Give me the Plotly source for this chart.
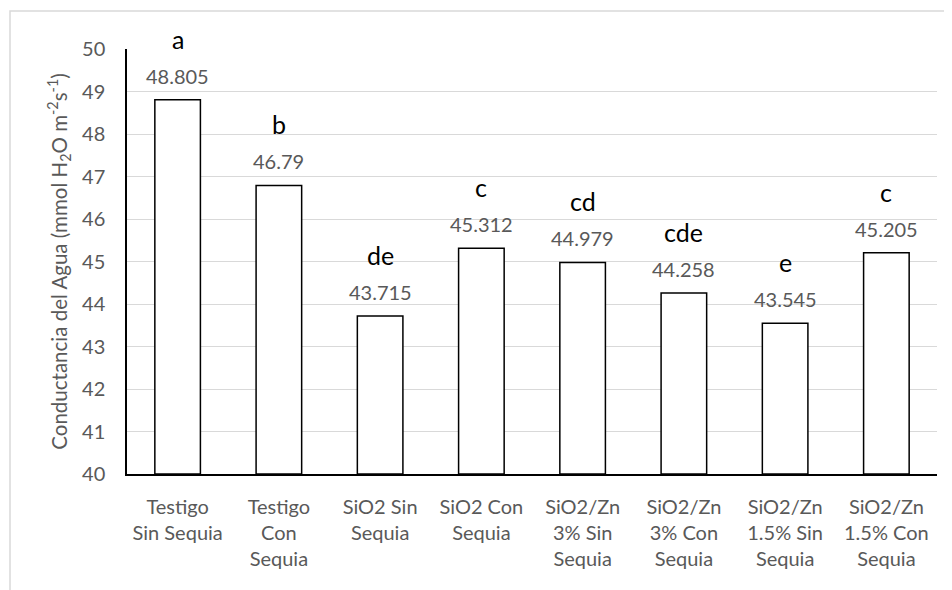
import plotly.graph_objects as go

categories = [
    "Testigo<br>Sin Sequia",
    "Testigo<br>Con<br>Sequia",
    "SiO2 Sin<br>Sequia",
    "SiO2 Con<br>Sequia",
    "SiO2/Zn<br>3% Sin<br>Sequia",
    "SiO2/Zn<br>3% Con<br>Sequia",
    "SiO2/Zn<br>1.5% Sin<br>Sequia",
    "SiO2/Zn<br>1.5% Con<br>Sequia",
]
values = [48.805, 46.79, 43.715, 45.312, 44.979, 44.258, 43.545, 45.205]
value_labels = ["48.805", "46.79", "43.715", "45.312", "44.979", "44.258", "43.545", "45.205"]
letters = ["a", "b", "de", "c", "cd", "cde", "e", "c"]
y_ticks = [40, 41, 42, 43, 44, 45, 46, 47, 48, 49, 50]

FONT = "Lato"
GRAY = "#595959"

fig = go.Figure()
fig.add_trace(go.Bar(
    x=categories,
    y=[v - 40 for v in values],
    base=40,
    marker=dict(color="white", line=dict(color="black", width=1.5)),
    width=0.45,
    hoverinfo="skip",
))

annotations = []
for c, v, vl, l in zip(categories, values, value_labels, letters):
    annotations.append(dict(x=c, y=v, xref="x", yref="y", text=vl, showarrow=False,
                            yanchor="middle", yshift=24,
                            font=dict(family=FONT, size=20, color=GRAY)))
    annotations.append(dict(x=c, y=v, xref="x", yref="y", text=l, showarrow=False,
                            yanchor="middle", yshift=61,
                            font=dict(family=FONT, size=25, color="black")))

# page body has an 8px margin: compensate so the plot area lands at x 127..937, y 49..474
fig.update_layout(
    width=952, height=590,
    margin=dict(l=119, r=23, t=41, b=124),
    paper_bgcolor="white", plot_bgcolor="white",
    showlegend=False,
    font=dict(family=FONT, size=20, color=GRAY),
    annotations=annotations,
    shapes=[dict(type="rect", xref="paper", yref="paper",
                 x0=-117/810, x1=1.3, y0=-1.0, y1=(474 - 11) / 425,
                 line=dict(color="#d9d9d9", width=1.5), fillcolor="rgba(0,0,0,0)",
                 layer="below")],
    xaxis=dict(
        showline=True, linecolor="black", linewidth=1.5,
        showgrid=False, ticks="", ticklabelstandoff=14,
        tickfont=dict(family=FONT, size=20, color=GRAY),
        fixedrange=True,
    ),
    yaxis=dict(
        range=[40, 50], tickvals=y_ticks,
        showline=True, linecolor="black", linewidth=1.5,
        showgrid=True, gridcolor="#d9d9d9", gridwidth=1,
        ticks="", ticklabelstandoff=16,
        tickfont=dict(family=FONT, size=20, color=GRAY),
        zeroline=False,
        title=dict(text="Conductancia del Agua (mmol H<sub>2</sub>O m<sup>-2</sup>s<sup>-1</sup>)",
                   font=dict(family=FONT, size=20.5, color=GRAY), standoff=9),
    ),
)

fig.write_html("out.html")
